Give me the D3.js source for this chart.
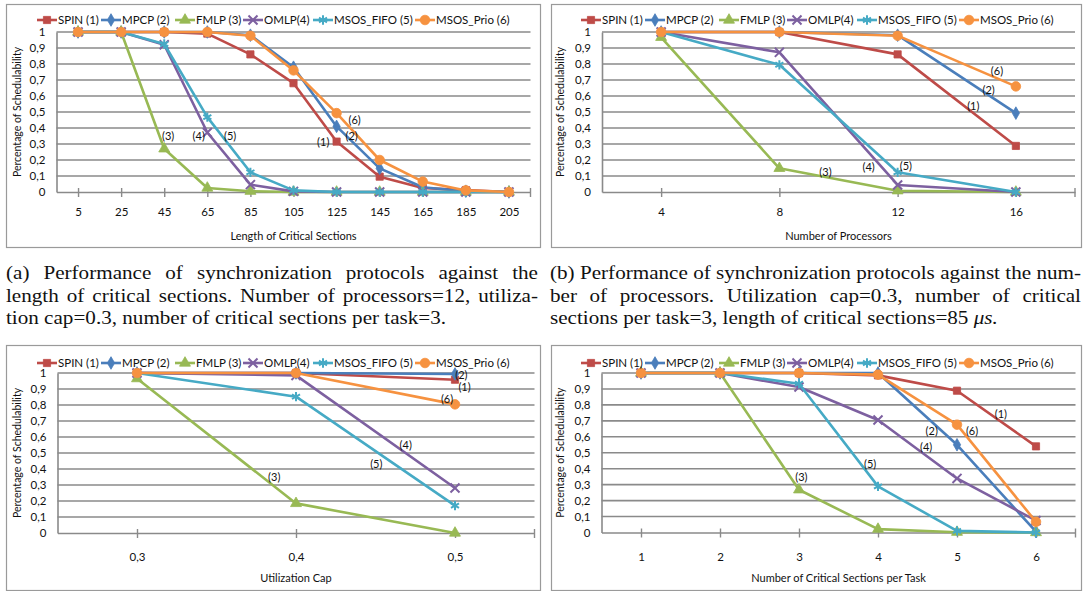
<!DOCTYPE html>
<html><head><meta charset="utf-8">
<script src="https://cdn.jsdelivr.net/npm/d3@7"></script>
<style>body{margin:0;background:#fff} svg{display:block}</style>
</head><body>
<svg id="c" width="1083" height="591"></svg>
<script>
// ---------- shared ----------
const seriesNames  = ["SPIN (1)","MPCP (2)","FMLP (3)","OMLP(4)","MSOS_FIFO (5)","MSOS_Prio (6)"];
const seriesColors = ["#BE4B48","#4A7EBB","#98B954","#7D60A0","#46AAC5","#F69240"];
const seriesMarkers= ["square","diamond","triangle","times","asterisk","circle"];
const yTickValues  = [0,0.1,0.2,0.3,0.4,0.5,0.6,0.7,0.8,0.9,1];
const yTickLabels  = ["0","0,1","0,2","0,3","0,4","0,5","0,6","0,7","0,8","0,9","1"];
const yTitle = "Percentage of Schedulability";

// ---------- panel (a): length of critical sections ----------
const catsA  = ["5","25","45","65","85","105","125","145","165","185","205"];
const spinA  = [1,1,1,0.99,0.86,0.68,0.315,0.096,0.025,0.012,0];
const mpcpA  = [1,1,1,1,0.98,0.78,0.41,0.148,0.03,0.005,0];
const fmlpA  = [1,1,0.27,0.025,0.005,0,0,0,0,0,0];
const omlpA  = [1,1,0.92,0.372,0.046,0.004,0,0,0,0,0];
const fifoA  = [1,1,0.925,0.468,0.123,0.01,0,0,0,0,0];
const prioA  = [1,1,1,1,0.977,0.76,0.493,0.2,0.065,0.01,0];
const labelsA = [[2,2.09,0.347],[3,2.80,0.347],[4,3.53,0.347],[0,5.69,0.315],[1,6.35,0.35],[5,6.42,0.45]];

// ---------- panel (b): number of processors ----------
const catsB  = ["4","8","12","16"];
const spinB  = [1,1,0.86,0.288];
const mpcpB  = [1,1,0.98,0.493];
const fmlpB  = [0.967,0.148,0.008,0];
const omlpB  = [1,0.873,0.044,0];
const fifoB  = [1,0.795,0.123,0];
const prioB  = [1,1,0.977,0.66];
const labelsB = [[5,2.84,0.754],[1,2.77,0.639],[0,2.64,0.539],[2,1.39,0.127],[3,1.755,0.154],[4,2.07,0.165]];

// ---------- panel (c): utilization cap ----------
const catsC  = ["0,3","0,4","0,5"];
const spinC  = [1,1,0.958];
const mpcpC  = [1,1,0.994];
const fmlpC  = [0.965,0.185,0];
const omlpC  = [1,0.985,0.281];
const fifoC  = [1,0.852,0.171];
const prioC  = [1,1,0.804];
const labelsC = [[1,2.04,0.99],[0,2.06,0.912],[5,1.95,0.84],[3,1.69,0.552],[4,1.505,0.433],[2,0.863,0.348]];

// ---------- panel (d): critical sections per task ----------
const catsD  = ["1","2","3","4","5","6"];
const spinD  = [1,1,1,0.985,0.889,0.54];
const mpcpD  = [1,1,1,1,0.55,0.005];
const fmlpD  = [1,1,0.268,0.021,0.002,0];
const omlpD  = [1,1,0.912,0.705,0.339,0.075];
const fifoD  = [1,1,0.933,0.289,0.01,0];
const prioD  = [1,1,1,0.99,0.676,0.067];
const labelsD = [[0,4.555,0.743],[1,3.68,0.634],[5,4.19,0.638],[3,3.61,0.533],[4,2.90,0.429],[2,2.03,0.345]];

// ---------- captions ----------
const captionA = ["(a) Performance of synchronization protocols against the",
                  "length of critical sections. Number of processors=12, utiliza-",
                  "tion cap=0.3, number of critical sections per task=3."];
const captionB = ["(b) Performance of synchronization protocols against the num-",
                  "ber of processors. Utilization cap=0.3, number of critical",
                  "sections per task=3, length of critical sections=85 "];
const captionBUnit = "μs.";

// ---------- layout (geometry only) ----------
const panels = [
  {cats:catsA, series:[spinA,mpcpA,fmlpA,omlpA,fifoA,prioA], labels:labelsA, xTitle:"Length of Critical Sections",
   box:[6,4,540,247], px:[56.5,530.5], py:[192,32], legX:37, legY:20, yTitleX:17, xTickC:212, xTitleY:240},
  {cats:catsB, series:[spinB,mpcpB,fmlpB,omlpB,fifoB,prioB], labels:labelsB, xTitle:"Number of Processors",
   box:[551,4,1081,247], px:[602,1075], py:[192,32], legX:581, legY:20, yTitleX:560, xTickC:212, xTitleY:240},
  {cats:catsC, series:[spinC,mpcpC,fmlpC,omlpC,fifoC,prioC], labels:labelsC, xTitle:"Utilization Cap",
   box:[6,345,540,590], px:[57.5,534.5], py:[533,373], legX:37, legY:363, yTitleX:17, xTickC:557, xTitleY:582},
  {cats:catsD, series:[spinD,mpcpD,fmlpD,omlpD,fifoD,prioD], labels:labelsD, xTitle:"Number of Critical Sections per Task",
   box:[551,345,1081,590], px:[601.5,1075.5], py:[532.5,373], legX:581, legY:363, yTitleX:560, xTickC:557, xTitleY:582}
];
const legendOffsets = [0,64,138,206,276,378];

const svg = d3.select("#c");
const FONT = "Lato, 'Open Sans', sans-serif";
const GRID = "#8a8a8a";

const symbolTypes = {square:d3.symbolSquare, diamond:d3.symbolDiamond, triangle:d3.symbolTriangle,
                     times:d3.symbolTimes, asterisk:d3.symbolAsterisk, circle:d3.symbolCircle};
const symbolSizes = {square:52, diamond:46, triangle:52, times:55, asterisk:60, circle:72};
function drawMarker(g, kind, color, x, y){
  const path = d3.symbol().type(symbolTypes[kind]).size(symbolSizes[kind])();
  const stroked = (kind==="times"||kind==="asterisk");
  g.append("path").attr("d",path).attr("transform",`translate(${x},${y})`)
    .attr("fill", stroked ? "none" : color)
    .attr("stroke", color).attr("stroke-width", stroked ? 2 : 0.8);
}

panels.forEach(p=>{
  const g = svg.append("g");
  const [bx0,by0,bx1,by1] = p.box;
  g.append("rect").attr("x",bx0+0.5).attr("y",by0+0.5).attr("width",bx1-bx0).attr("height",by1-by0)
    .attr("fill","#fff").attr("stroke","#9a9a9a").attr("stroke-width",1.2);

  const x = d3.scalePoint().domain(p.cats).range(p.px).padding(0.5);
  const y = d3.scaleLinear().domain([0,1]).range(p.py);
  const step = x.step();
  const xf = i => x(p.cats[0]) + i*step;

  // gridlines
  g.append("g").selectAll("line").data(yTickValues.filter(v=>v>0)).join("line")
    .attr("x1",p.px[0]).attr("x2",p.px[1]).attr("y1",d=>y(d)).attr("y2",d=>y(d))
    .attr("stroke",GRID).attr("stroke-width",1.6);

  // y axis
  const yAxis = d3.axisLeft(y).tickValues(yTickValues).tickFormat((d,i)=>yTickLabels[i]).tickSize(0).tickPadding(11);
  const ya = g.append("g").attr("transform",`translate(${p.px[0]},0)`).call(yAxis);
  ya.select(".domain").attr("stroke",GRID).attr("stroke-width",1.6);
  ya.selectAll("text").attr("font-family",FONT).attr("font-size",11.5).attr("fill","#111");

  // x axis
  const pad = (p.xTickC - p.py[0]) - 5 - 4;
  const xAxis = d3.axisBottom(x).tickSizeInner(5).tickSizeOuter(0).tickPadding(pad);
  const xa = g.append("g").attr("transform",`translate(0,${p.py[0]})`).call(xAxis);
  xa.select(".domain").attr("stroke",GRID).attr("stroke-width",1.6);
  xa.selectAll(".tick line").attr("y1",-4).attr("y2",5).attr("stroke",GRID).attr("stroke-width",1.4);
  xa.selectAll("text").attr("font-family",FONT).attr("font-size",11.5).attr("fill","#111");
  g.append("line").attr("x1",p.px[1]).attr("x2",p.px[1]).attr("y1",p.py[0]-4).attr("y2",p.py[0]+5)
    .attr("stroke",GRID).attr("stroke-width",1.4);

  // titles
  g.append("text").attr("x",(p.px[0]+p.px[1])/2).attr("y",p.xTitleY).attr("text-anchor","middle")
    .attr("font-family",FONT).attr("font-size",11).attr("fill","#111").text(p.xTitle);
  g.append("text").attr("transform",`translate(${p.yTitleX+4},${(p.py[0]+p.py[1])/2}) rotate(-90)`)
    .attr("text-anchor","middle").attr("font-family",FONT).attr("font-size",10.5).attr("fill","#111").text(yTitle);

  // series
  const line = d3.line().x((d,i)=>x(p.cats[i])).y(d=>y(d));
  p.series.forEach((vals,si)=>{
    const sg = g.append("g");
    sg.append("path").datum(vals).attr("d",line).attr("fill","none")
      .attr("stroke",seriesColors[si]).attr("stroke-width",2.6).attr("stroke-linejoin","round");
    vals.forEach((v,i)=>drawMarker(sg, seriesMarkers[si], seriesColors[si], x(p.cats[i]), y(v)));
  });

  // annotations
  p.labels.forEach(([si,ci,v])=>{
    g.append("text").attr("x",xf(ci)).attr("y",y(v)+4).attr("text-anchor","middle")
      .attr("font-family",FONT).attr("font-size",11).attr("fill","#111").text(`(${si+1})`);
  });

  // legend
  seriesNames.forEach((name,si)=>{
    const lx = p.legX + legendOffsets[si];
    g.append("line").attr("x1",lx).attr("x2",lx+20).attr("y1",p.legY).attr("y2",p.legY)
      .attr("stroke",seriesColors[si]).attr("stroke-width",2.6);
    drawMarker(g, seriesMarkers[si], seriesColors[si], lx+10, p.legY);
    g.append("text").attr("x",lx+21).attr("y",p.legY+4).attr("font-family",FONT).attr("font-size",11.5)
      .attr("fill","#111").text(name);
  });
});

// ---------- captions ----------
const CAP_FONT = "'Liberation Serif','Times New Roman',serif";
const capSize = 18.5;
const capBase = [279, 301.5, 324];
function capText(str, italicTail){
  const t = svg.append("text").attr("font-family",CAP_FONT).attr("font-size",capSize).attr("fill","#111");
  t.append("tspan").text(str);
  if(italicTail) t.append("tspan").attr("font-style","italic").text(italicTail);
  return t;
}
// horizontal stretch: first line of caption (b) set at its natural spacing across 550..1081
const probe = capText(captionB[0]);
const natural = probe.node().getComputedTextLength();
probe.remove();
const sx = (1081 - 550) / natural;

function caption(lines, x0, x1, unit){
  lines.forEach((str,li)=>{
    const last = li===lines.length-1;
    const t = capText(str, last ? unit : null);
    t.attr("transform",`translate(${x0},${capBase[li]}) scale(${sx},1)`);
    if(!last){
      const w = t.node().getComputedTextLength();
      const n = (str.match(/ /g)||[]).length;
      t.attr("word-spacing", ((x1-x0)/sx - w)/n);
    }
  });
}
caption(captionA, 6, 538, null);
caption(captionB, 550, 1081, captionBUnit);
</script>
</body></html>
